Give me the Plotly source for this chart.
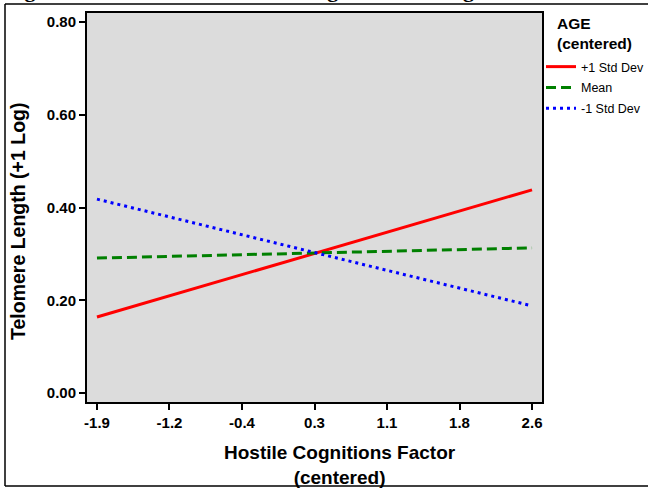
import plotly.graph_objects as go

# Data
x_vals = [-1.9, 2.6]
plus_sd = [0.164, 0.438]
mean_vals = [0.291, 0.313]
minus_sd = [0.418, 0.188]
series_names = ["+1 Std Dev", "Mean", "-1 Std Dev"]
x_tickvals = [-1.9, -1.15, -0.4, 0.35, 1.1, 1.85, 2.6]
x_ticktext = ["-1.9", "-1.2", "-0.4", "0.3", "1.1", "1.8", "2.6"]
y_tickvals = [0.0, 0.2, 0.4, 0.6, 0.8]
y_ticktext = ["0.00", "0.20", "0.40", "0.60", "0.80"]

W, H = 648, 489
L, R, T, B = 87, 542, 13, 402

def px(x):
    return (x - L) / (R - L)

def py(y):
    return (B - y) / (B - T)

fig = go.Figure()
fig.add_trace(go.Scatter(x=x_vals, y=plus_sd, mode="lines", name=series_names[0],
                         legendgroup="a", line=dict(color="#ff0000", width=3)))
fig.add_trace(go.Scatter(x=x_vals, y=mean_vals, mode="lines", name=series_names[1],
                         legendgroup="b", line=dict(color="#008000", width=3, dash="10px,5px")))
fig.add_trace(go.Scatter(x=x_vals, y=minus_sd, mode="lines", name=series_names[2],
                         legendgroup="c", line=dict(color="#0000ff", width=3, dash="3px,4px")))

font_fam = "Liberation Sans, Arial, sans-serif"

fig.update_layout(
    width=W, height=H,
    margin=dict(l=L, r=W - R, t=T, b=H - B, pad=0, autoexpand=False),
    paper_bgcolor="white",
    plot_bgcolor="#dcdcdc",
    font=dict(family=font_fam, color="black"),
    showlegend=True,
    legend=dict(
        x=px(541), y=py(52), xanchor="left", yanchor="top",
        font=dict(size=12.5, family=font_fam),
        bgcolor="rgba(0,0,0,0)",
        tracegroupgap=1.5,
    ),
    xaxis=dict(
        range=[-2.003, 2.703],
        tickvals=x_tickvals, ticktext=x_ticktext,
        ticks="outside", ticklen=6, tickwidth=2, tickcolor="black",
        tickfont=dict(size=15, family=font_fam, weight="bold"),
        showgrid=False, zeroline=False, automargin=False,
        showline=True, linewidth=2, linecolor="black", mirror=True,
    ),
    yaxis=dict(
        range=[-0.019, 0.819],
        tickvals=y_tickvals, ticktext=y_ticktext,
        ticks="outside", ticklen=6, tickwidth=2, tickcolor="black",
        tickfont=dict(size=15, family=font_fam, weight="bold"),
        showgrid=False, zeroline=False, automargin=False,
        showline=True, linewidth=2, linecolor="black", mirror=True,
    ),
)

# Legend title
fig.add_annotation(
    text="<b>AGE<br>(centered)</b>", xref="paper", yref="paper",
    x=px(555), y=py(34), xanchor="left", yanchor="middle", align="left",
    showarrow=False, font=dict(size=15.5, family=font_fam),
)

# Axis titles
fig.add_annotation(
    text="<b>Hostile Cognitions Factor<br>(centered)</b>", xref="paper", yref="paper",
    x=px(340), y=py(465), xanchor="center", yanchor="middle", align="center",
    showarrow=False, font=dict(size=19, family=font_fam),
)
fig.add_annotation(
    text="<b>Telomere Length (+1 Log)</b>", xref="paper", yref="paper",
    x=px(18), y=py(222), xanchor="center", yanchor="middle", textangle=-90,
    showarrow=False, font=dict(size=19.5, family=font_fam),
)

# Outer frame lines of the cropped figure
frame_line = dict(color="black", width=1.5)
fig.add_shape(type="line", xref="paper", yref="paper",
              x0=px(5), x1=px(W), y0=py(4), y1=py(4), line=frame_line)
fig.add_shape(type="line", xref="paper", yref="paper",
              x0=px(5), x1=px(5), y0=py(4), y1=py(486), line=frame_line)
fig.add_shape(type="line", xref="paper", yref="paper",
              x0=px(5), x1=px(W), y0=py(486), y1=py(486), line=frame_line)

# Cropped caption at the top (mostly above the visible area)
fig.add_annotation(
    text="<b>Figure 2. Interaction of Hostile Cognitions and Age</b>",
    xref="paper", yref="paper", x=px(3), y=py(4), xanchor="left", yanchor="bottom",
    showarrow=False, font=dict(size=22, family="Liberation Serif, Times New Roman, serif"),
)

fig.write_html("out.html")
